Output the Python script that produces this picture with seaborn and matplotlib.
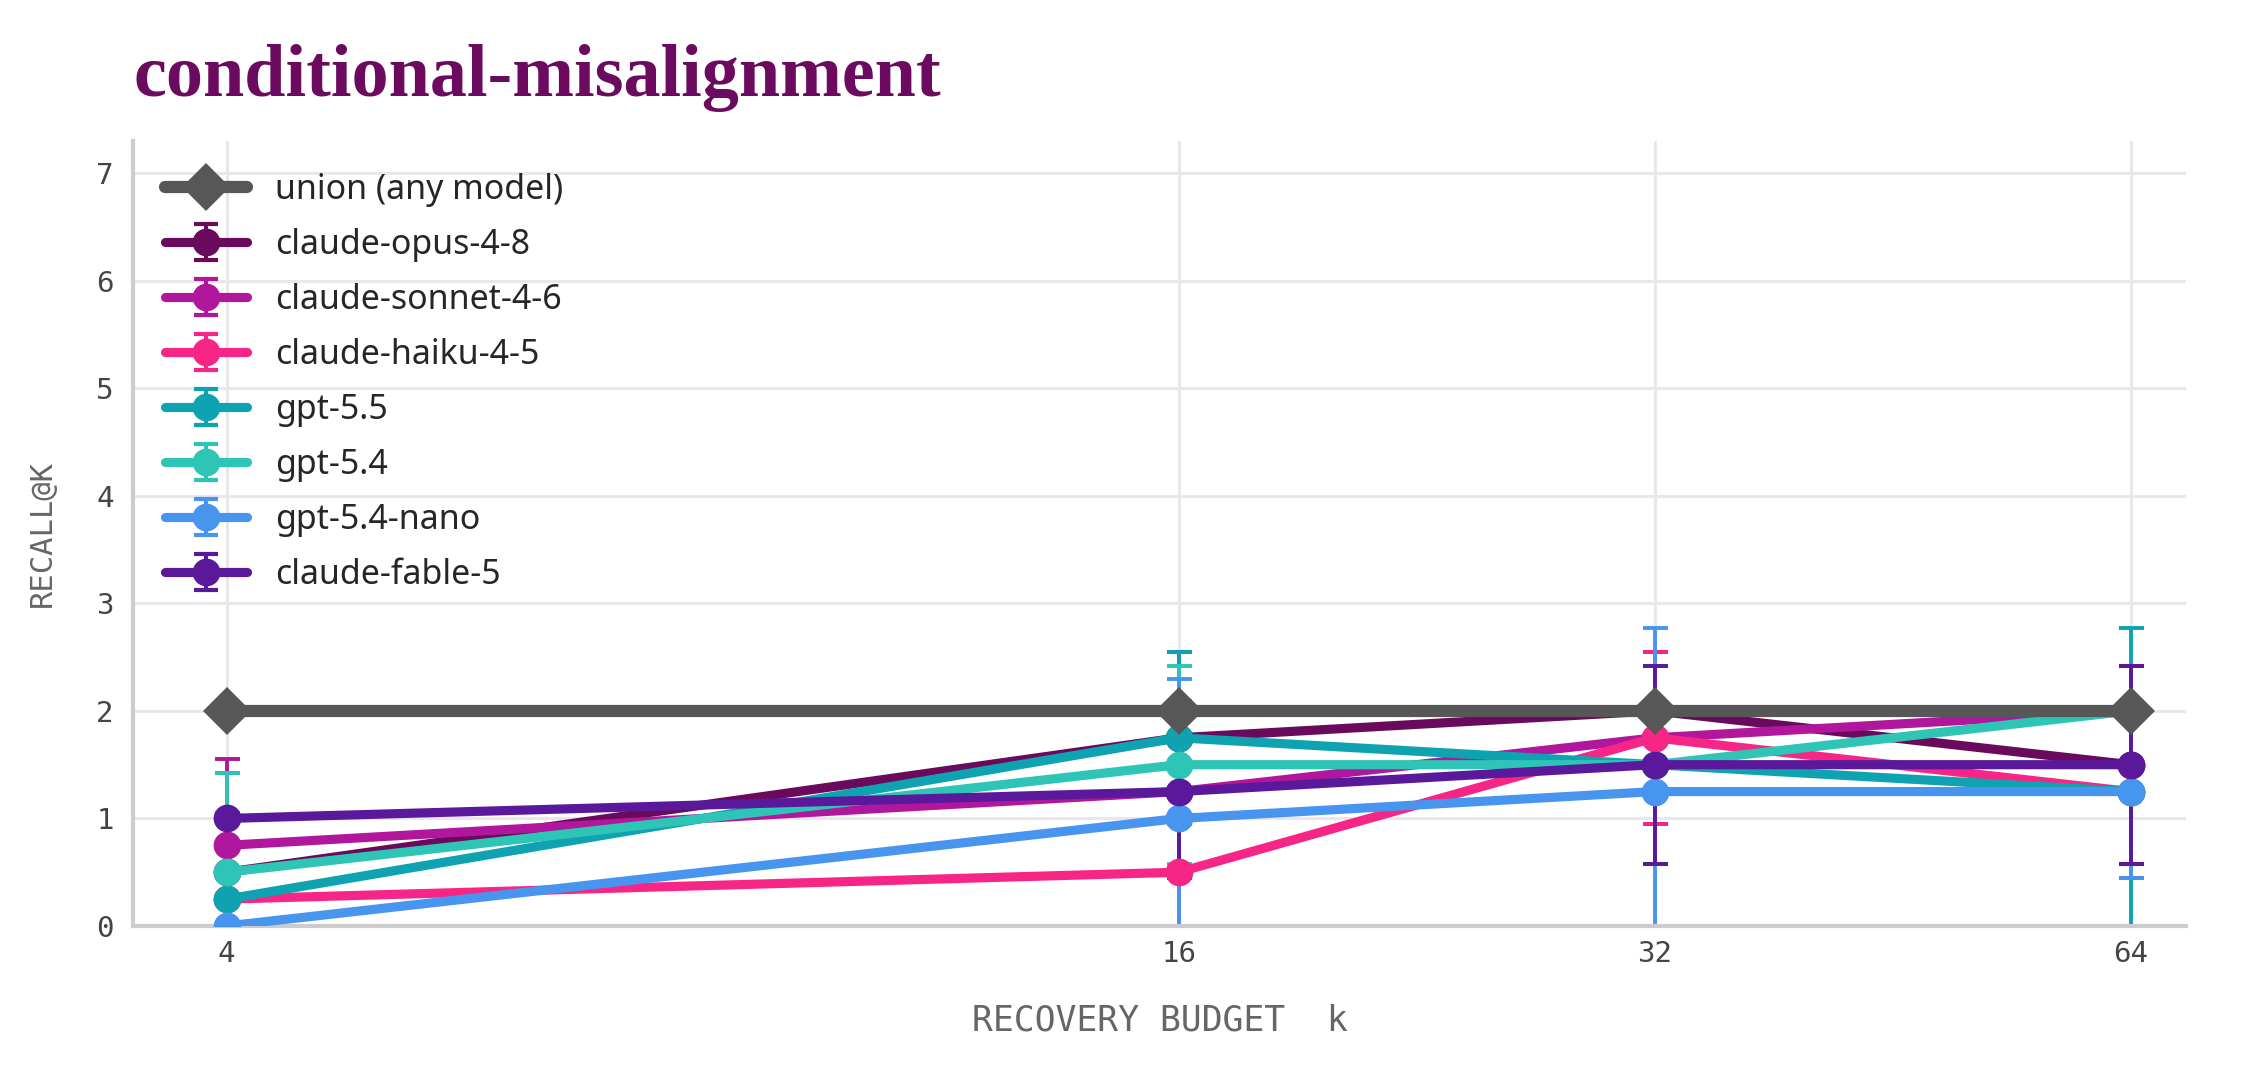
import numpy as np
import pandas as pd
import matplotlib
matplotlib.use("Agg")
import matplotlib.pyplot as plt
import seaborn as sns
from matplotlib.lines import Line2D
from matplotlib.path import Path
from matplotlib.ticker import NullLocator
from matplotlib.font_manager import FontProperties

# recall@k per model, mean over runs, and the 95% CI half-width
budgets = [4, 16, 32, 64]
models = ["claude-opus-4-8", "claude-sonnet-4-6", "claude-haiku-4-5",
          "gpt-5.5", "gpt-5.4", "gpt-5.4-nano", "claude-fable-5"]

union_recall = [2.0, 2.0, 2.0, 2.0]

opus_recall = [0.5, 1.75, 2.0, 1.5]
sonnet_recall = [0.75, 1.25, 1.75, 2.0]
haiku_recall = [0.25, 0.5, 1.75, 1.25]
gpt55_recall = [0.25, 1.75, 1.5, 1.25]
gpt54_recall = [0.5, 1.5, 1.5, 2.0]
nano_recall = [0.0, 1.0, 1.25, 1.25]
fable_recall = [1.0, 1.25, 1.5, 1.5]

opus_ci = [0.92, 0.80, 0.0, 0.92]
sonnet_ci = [0.80, 0.80, 0.80, 0.0]
haiku_ci = [0.80, 1.59, 0.80, 0.80]
gpt55_ci = [0.80, 0.80, 0.92, 1.52]
gpt54_ci = [0.92, 0.92, 0.92, 0.0]
nano_ci = [0.0, 1.30, 1.52, 0.80]
fable_ci = [0.0, 0.80, 0.92, 0.92]

recalls = [opus_recall, sonnet_recall, haiku_recall, gpt55_recall,
           gpt54_recall, nano_recall, fable_recall]
cis = [opus_ci, sonnet_ci, haiku_ci, gpt55_ci, gpt54_ci, nano_ci, fable_ci]

colors = {
    "claude-opus-4-8": "#6a0a5c",
    "claude-sonnet-4-6": "#b0179c",
    "claude-haiku-4-5": "#f72585",
    "gpt-5.5": "#0fa3b1",
    "gpt-5.4": "#2ec4b6",
    "gpt-5.4-nano": "#4895ef",
    "claude-fable-5": "#5a189a",
}
union_color = "#575757"

rows = []
for m, r in zip(models, recalls):
    for k, v in zip(budgets, r):
        rows.append({"k": k, "recall": v, "model": m})
df = pd.DataFrame(rows)

sns.set_theme(style="whitegrid")
plt.rcParams["grid.color"] = "#ebe6ec"
plt.rcParams["grid.linewidth"] = 1.1

fig = plt.figure(figsize=(11.275, 5.36), dpi=200)
ax = fig.add_axes([0.059, 0.1362, 0.9105, 0.7323])

eb_kw = dict(fmt="none", elinewidth=1.4, capsize=4.5, capthick=1.4)

# error bars first, all below the lines and markers
for m, r, c in zip(models, recalls, cis):
    r = np.array(r)
    c = np.array(c)
    lo = np.minimum(c, r)  # clip at zero
    ax.errorbar(budgets, r, yerr=[lo, c], ecolor=colors[m], zorder=2, **eb_kw)

sns.lineplot(data=df, x="k", y="recall", hue="model", hue_order=models,
             palette=colors, marker="o", markersize=10, markeredgewidth=0,
             linewidth=3.3, errorbar=None, legend=False, ax=ax, zorder=3)

sns.lineplot(x=budgets, y=union_recall, color=union_color, marker="D",
             markersize=12, markeredgewidth=0, linewidth=4.4,
             errorbar=None, ax=ax, zorder=4)

ax.set_xscale("log", base=2)
ax.set_xticks(budgets)
ax.set_xticklabels([str(b) for b in budgets])
ax.xaxis.set_minor_locator(NullLocator())
ax.set_xlim(3.49, 69.4)
ax.set_ylim(0, 7.3)
ax.set_yticks(range(8))

mono = "DejaVu Sans Mono"
for lab in ax.get_xticklabels() + ax.get_yticklabels():
    lab.set_family(mono)
    lab.set_fontsize(10.5)
    lab.set_color("#444444")
ax.tick_params(axis="both", length=0)
ax.tick_params(axis="x", pad=5)
ax.tick_params(axis="y", pad=7)

ax.set_xlabel("RECOVERY BUDGET  k", family=mono, fontsize=12.5,
              color="#666666", labelpad=13)
ax.set_ylabel("RECALL@K", family=mono, fontsize=11, color="#666666",
              labelpad=14)

for s in ["top", "right"]:
    ax.spines[s].set_visible(False)
for s in ["left", "bottom"]:
    ax.spines[s].set_color("#cccccc")
    ax.spines[s].set_linewidth(1.5)

# legend: errorbar glyph (bar + caps) drawn as a marker under line+dot
M, L = Path.MOVETO, Path.LINETO
errbar_glyph = Path([(0, -1), (0, 1), (-0.67, -1), (0.67, -1),
                     (-0.67, 1), (0.67, 1)], [M, L, M, L, M, L])

handles = [Line2D([], [], color=union_color, marker="D", markersize=12,
                  markeredgewidth=0, linewidth=4.4)]
for m in models:
    bar = Line2D([], [], linestyle="none", marker=errbar_glyph,
                 markersize=13, markeredgewidth=1.5, color=colors[m],
                 markerfacecolor="none")
    line = Line2D([], [], color=colors[m], marker="o", markersize=10,
                  markeredgewidth=0, linewidth=3.3)
    handles.append((bar, line))
labels = ["union (any model)"] + models
ax.legend(handles, labels, loc="upper left", frameon=False,
          prop=FontProperties(family="Noto Sans", size=12.2),
          handlelength=2.4, handletextpad=0.85, labelspacing=0.62,
          borderaxespad=0.55)

fig.text(0.059, 0.91, "conditional-misalignment", family="Liberation Serif",
         fontsize=26.7, fontweight="bold", color="#6b0a5e", va="baseline",
         ha="left")

fig.savefig("out.png", dpi=200)
